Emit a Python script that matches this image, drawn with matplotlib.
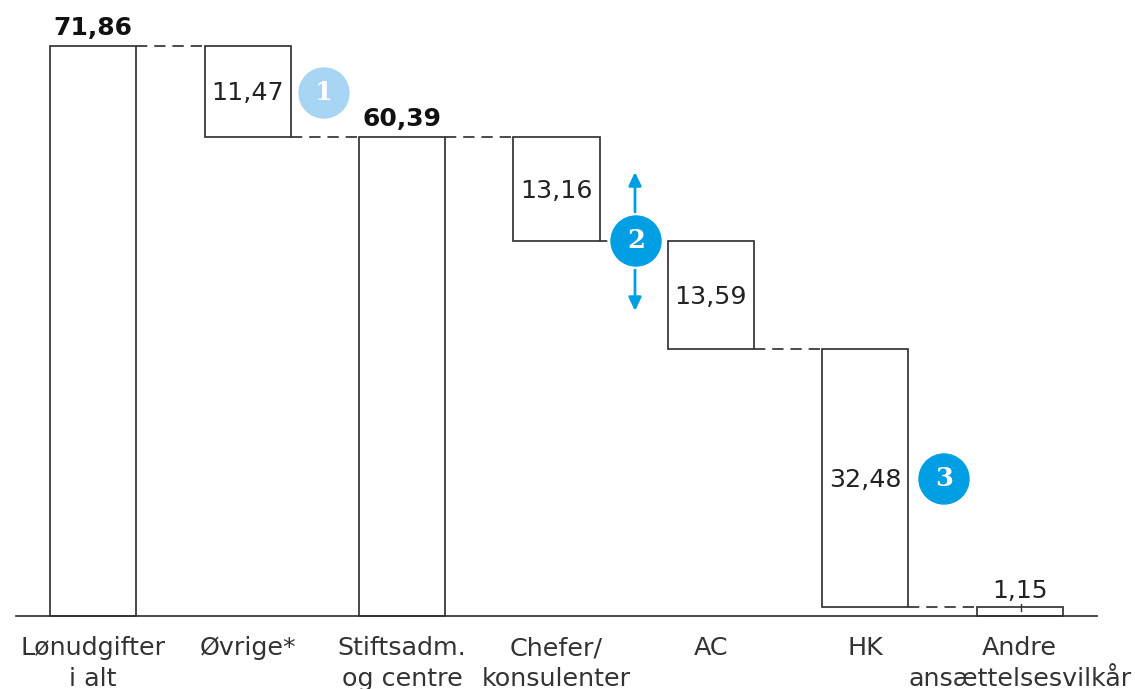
import matplotlib
matplotlib.use("Agg")
import matplotlib.pyplot as plt

W, H = 1135, 689

categories = ["Lønudgifter\ni alt", "Øvrige*", "Stiftsadm.\nog centre", "Chefer/\nkonsulenter",
              "AC", "HK", "Andre\nansættelsesvilkår"]
values = [71.86, 11.47, 60.39, 13.16, 13.59, 32.48, 1.15]
bottoms = [0, 60.39, 0, 47.23, 33.64, 1.16, 0]
labels = ["71,86", "11,47", "60,39", "13,16", "13,59", "32,48", "1,15"]
totals = [0, 2]

LINE = "#333333"
BLUE = "#009FE3"
LIGHT = "#A9D5F5"

plt.rcParams["font.family"] = "DejaVu Sans"

fig = plt.figure(figsize=(W / 100, H / 100), dpi=100)
ax = fig.add_axes([16 / W, (H - 616) / H, 1081 / W, 606 / H])
ax.set_xlim(-0.5, 6.5)
ax.set_ylim(0, 76.4)
ax.axis("off")

width = 0.557
xs = range(len(values))
ax.bar(xs, values, width, bottom=bottoms, facecolor="white", edgecolor=LINE, linewidth=1.25, clip_on=False, zorder=2)
ax.plot([-0.5, 6.5], [0, 0], color=LINE, lw=1.25, clip_on=False, zorder=3)

# dashed connectors run at the top of the next bar
for i in range(len(values) - 1):
    y = bottoms[i + 1] + values[i + 1]
    # the one behind callout 2 only shows a short stub
    dash = (4.2, 40) if i == 3 else (6.5, 4)
    ax.plot([i + width / 2, i + 1 - width / 2], [y, y], color=LINE, lw=1.25, dashes=dash, zorder=1)

# value labels
for i in xs:
    if i in totals:
        ax.text(i, bottoms[i] + values[i] + 0.7, labels[i], ha="center", va="bottom",
                fontsize=18, fontweight="bold", color="#111111")
    elif i == 6:
        ax.text(i, values[i] + 0.55, labels[i], ha="center", va="bottom", fontsize=18, color="#222222")
        ax.plot([i + 0.005, i + 0.005], [values[i] - 0.55, values[i] + 0.35], color=LINE, lw=1.0, zorder=3)
    else:
        ax.text(i, bottoms[i] + values[i] / 2 - 0.2, labels[i], ha="center", va="center",
                fontsize=18.3, color="#222222")

# category labels
for i, name in enumerate(categories):
    ax.text(i, -2.55, name, ha="center", va="top", fontsize=18.3, color="#333333",
            linespacing=1.38, clip_on=False)


def px(x, y):
    return x / W, 1 - y / H


# numbered callouts
for num, cx, cy, col in [("1", 324, 93, LIGHT), ("2", 636, 241, BLUE), ("3", 944, 479, BLUE)]:
    fig.add_artist(plt.Circle((cx, H - cy), 25, transform=None, color=col, zorder=5))
    x, y = px(cx, cy)
    fig.text(x, y, num, ha="center", va="center", color="white", fontsize=18.5, fontweight="bold", zorder=6,
             family="DejaVu Serif")

# arrows either side of callout 2
for y0, y1 in [(212, 172), (270, 311)]:
    ax.annotate("", xy=px(635, y1), xytext=px(635, y0), xycoords="figure fraction", textcoords="figure fraction",
                arrowprops=dict(arrowstyle="-|>,head_width=0.38,head_length=0.8", color=BLUE, lw=2,
                                shrinkA=0, shrinkB=0))

fig.savefig("out.png", dpi=100)
